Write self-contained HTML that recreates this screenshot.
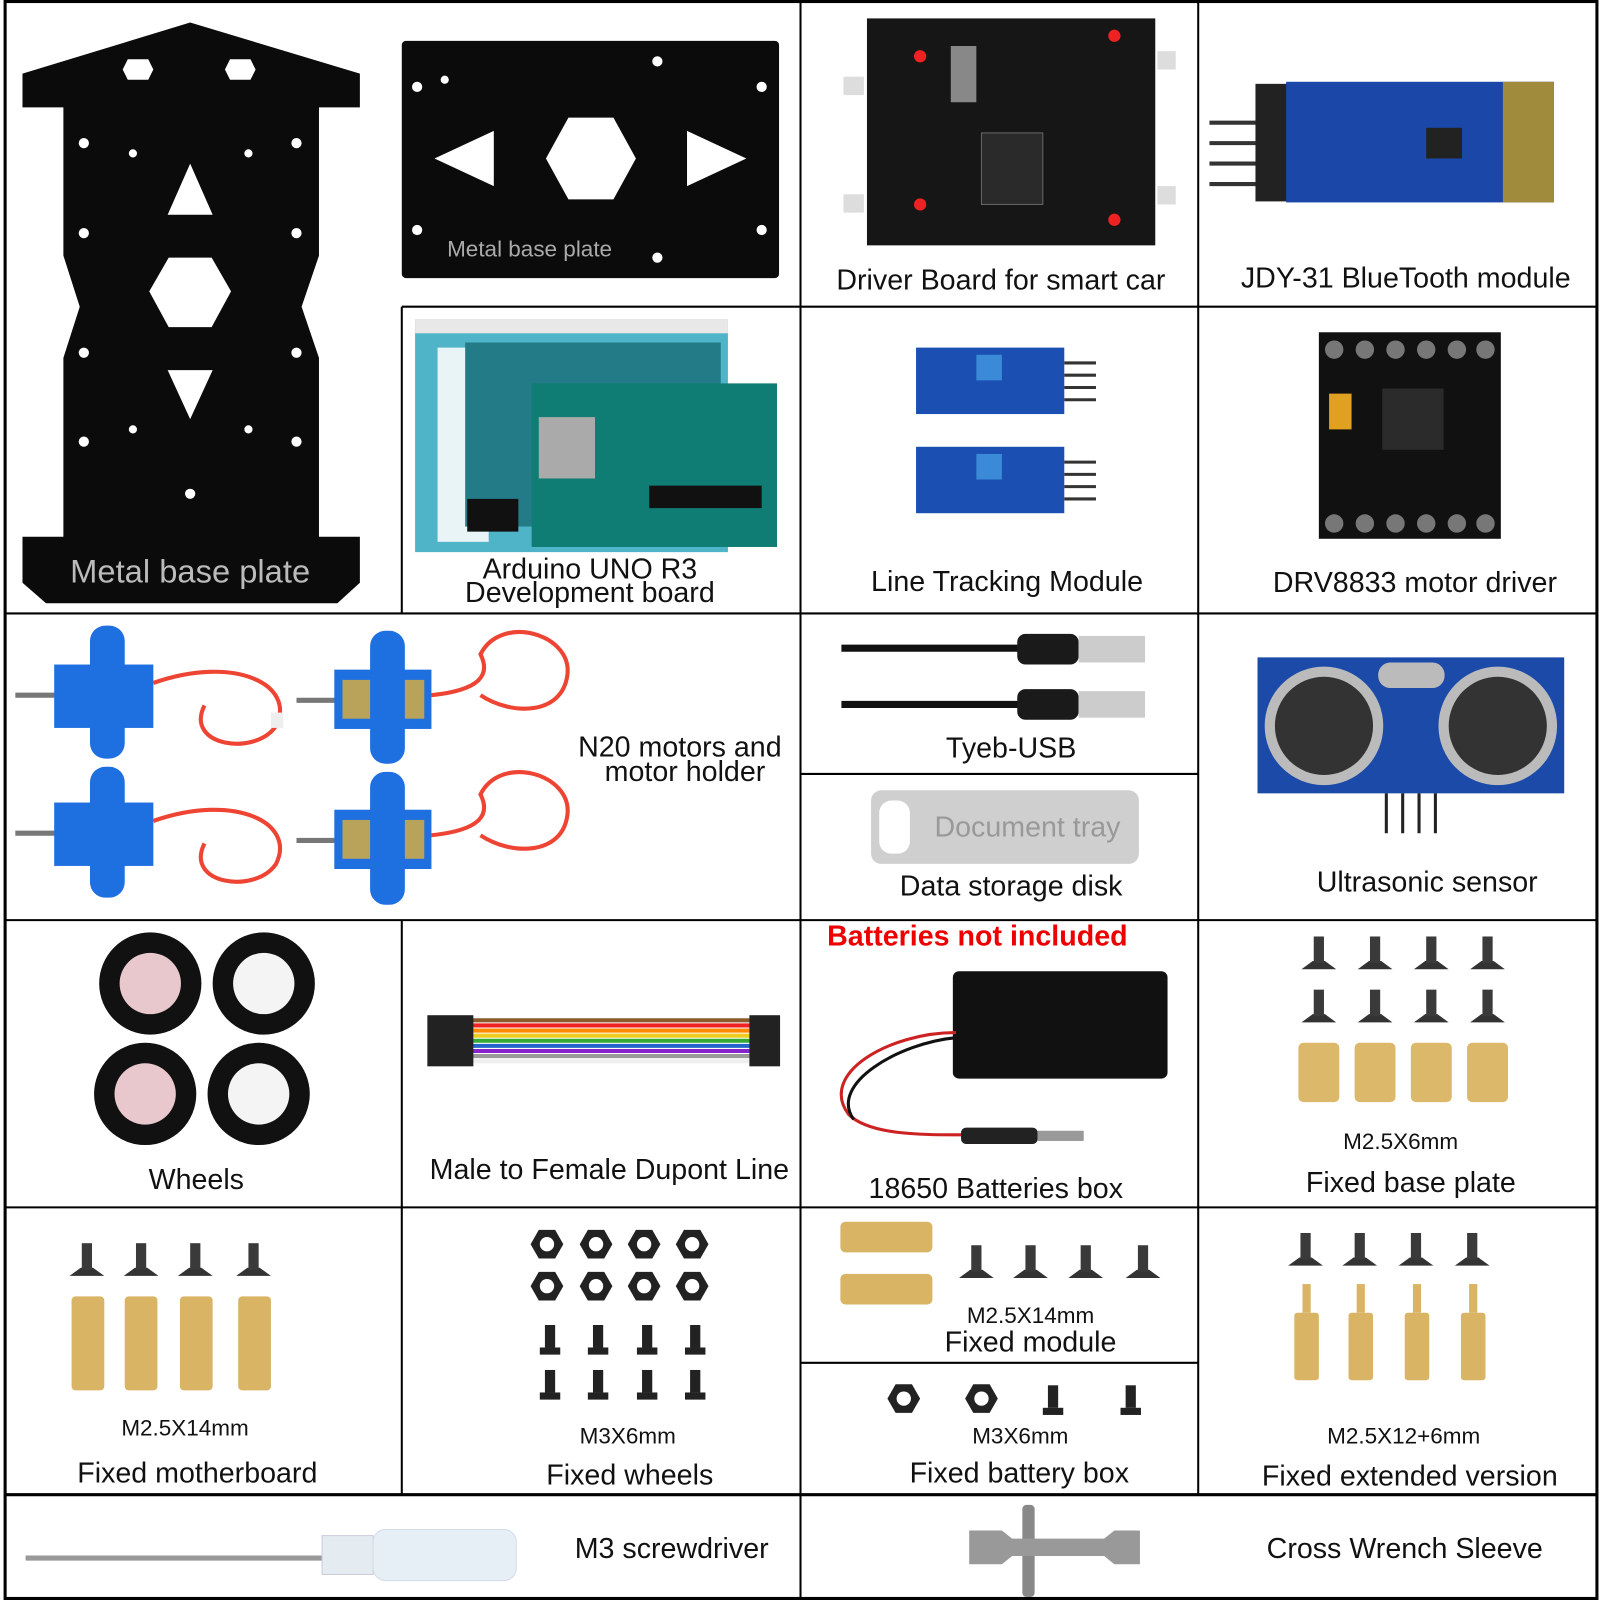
<!DOCTYPE html>
<html><head><meta charset="utf-8"><style>
html,body{margin:0;padding:0;background:#fff;width:1600px;height:1600px;overflow:hidden}
svg{display:block}
text{font-family:"Liberation Sans",sans-serif;fill:#111}
</style></head><body>
<svg width="1600" height="1600" viewBox="0 0 1565 1565" xmlns="http://www.w3.org/2000/svg">
<rect width="1565" height="1565" fill="#fff"/>
<!-- big metal plate -->
<polygon points="186,22 352,72 352,105 312,105 312,250 295,300 312,350 312,525 352,525 352,570 330,590 45,590 22,570 22,525 62,525 62,350 78,300 62,250 62,105 22,105 22,72" fill="#0b0b0b"/>
<polygon points="186,160 208,210 164,210" fill="#fff"/>
<polygon points="186,410 208,362 164,362" fill="#fff"/>
<polygon points="165,252 207,252 226,285 207,320 165,320 146,285" fill="#fff"/>
<polygon points="125,58 145,58 150,68 145,78 125,78 120,68" fill="#fff"/>
<polygon points="225,58 245,58 250,68 245,78 225,78 220,68" fill="#fff"/>
<g fill="#fff"><circle cx="82" cy="140" r="5"/><circle cx="290" cy="140" r="5"/><circle cx="82" cy="228" r="5"/><circle cx="290" cy="228" r="5"/><circle cx="82" cy="345" r="5"/><circle cx="290" cy="345" r="5"/><circle cx="82" cy="432" r="5"/><circle cx="290" cy="432" r="5"/><circle cx="186" cy="483" r="5"/><circle cx="130" cy="150" r="4"/><circle cx="243" cy="150" r="4"/><circle cx="130" cy="420" r="4"/><circle cx="243" cy="420" r="4"/></g>
<text x="186" y="570" text-anchor="middle" font-size="32" style="fill:#bbb">Metal base plate</text>
<!-- plate 2 -->
<rect x="393" y="40" width="369" height="232" rx="4" fill="#0b0b0b"/>
<polygon points="425,155 483,128 483,182" fill="#fff"/>
<polygon points="730,155 672,128 672,182" fill="#fff"/>
<polygon points="556,115 600,115 622,155 600,195 556,195 534,155" fill="#fff"/>
<g fill="#fff"><circle cx="408" cy="85" r="5"/><circle cx="745" cy="85" r="5"/><circle cx="408" cy="225" r="5"/><circle cx="745" cy="225" r="5"/><circle cx="643" cy="60" r="5"/><circle cx="643" cy="252" r="5"/><circle cx="435" cy="78" r="4"/></g>
<text x="518" y="251" text-anchor="middle" font-size="22" style="fill:#aaa">Metal base plate</text>
<!-- driver board -->
<rect x="848" y="18" width="282" height="222" fill="#161616"/>
<rect x="930" y="45" width="25" height="55" fill="#888"/>
<rect x="960" y="130" width="60" height="70" fill="#2a2a2a" stroke="#666"/>
<g fill="#e22"><circle cx="900" cy="55" r="6"/><circle cx="1090" cy="35" r="6"/><circle cx="900" cy="200" r="6"/><circle cx="1090" cy="215" r="6"/></g>
<rect x="825" y="75" width="20" height="18" fill="#ddd"/><rect x="825" y="190" width="20" height="18" fill="#ddd"/>
<rect x="1132" y="50" width="18" height="18" fill="#ddd"/><rect x="1132" y="182" width="18" height="18" fill="#ddd"/>
<text x="979" y="283" text-anchor="middle" font-size="28">Driver Board for smart car</text>
<!-- JDY-31 -->
<g stroke="#333" stroke-width="4"><line x1="1183" y1="120" x2="1240" y2="120"/><line x1="1183" y1="140" x2="1240" y2="140"/><line x1="1183" y1="160" x2="1240" y2="160"/><line x1="1183" y1="180" x2="1240" y2="180"/></g>
<rect x="1228" y="82" width="32" height="115" fill="#222"/>
<rect x="1258" y="80" width="262" height="118" fill="#1a47a8"/>
<rect x="1470" y="80" width="50" height="118" fill="#a08a3c"/>
<rect x="1395" y="125" width="35" height="30" fill="#222"/>
<text x="1375" y="281" text-anchor="middle" font-size="28">JDY-31 BlueTooth module</text>
<!-- Arduino -->
<polygon points="406,312 712,312 712,540 406,540" fill="#4fb4c8"/>
<rect x="406" y="312" width="306" height="14" fill="#e8e8e8"/>
<rect x="428" y="340" width="50" height="190" fill="#e8f4f6"/>
<rect x="455" y="335" width="250" height="180" fill="#227b86"/>
<rect x="520" y="375" width="240" height="160" fill="#0f7d74"/>
<rect x="527" y="408" width="55" height="60" fill="#aaa"/>
<rect x="457" y="488" width="50" height="32" fill="#111"/>
<rect x="635" y="475" width="110" height="22" fill="#111"/>
<text x="577" y="566" text-anchor="middle" font-size="28">Arduino UNO R3</text>
<text x="577" y="589" text-anchor="middle" font-size="28">Development board</text>
<!-- line tracking -->
<rect x="896" y="340" width="145" height="65" fill="#1c4fb2"/>
<rect x="896" y="437" width="145" height="65" fill="#1c4fb2"/>
<rect x="955" y="347" width="25" height="25" fill="#3a8ad8"/><rect x="955" y="444" width="25" height="25" fill="#3a8ad8"/>
<g stroke="#333" stroke-width="3"><line x1="1041" y1="355" x2="1072" y2="355"/><line x1="1041" y1="367" x2="1072" y2="367"/><line x1="1041" y1="379" x2="1072" y2="379"/><line x1="1041" y1="391" x2="1072" y2="391"/><line x1="1041" y1="452" x2="1072" y2="452"/><line x1="1041" y1="464" x2="1072" y2="464"/><line x1="1041" y1="476" x2="1072" y2="476"/><line x1="1041" y1="488" x2="1072" y2="488"/></g>
<text x="985" y="578" text-anchor="middle" font-size="28">Line Tracking Module</text>
<!-- DRV8833 -->
<rect x="1290" y="325" width="178" height="202" fill="#111"/>
<g fill="#777"><circle cx="1305" cy="342" r="9"/><circle cx="1335" cy="342" r="9"/><circle cx="1365" cy="342" r="9"/><circle cx="1395" cy="342" r="9"/><circle cx="1425" cy="342" r="9"/><circle cx="1453" cy="342" r="9"/><circle cx="1305" cy="512" r="9"/><circle cx="1335" cy="512" r="9"/><circle cx="1365" cy="512" r="9"/><circle cx="1395" cy="512" r="9"/><circle cx="1425" cy="512" r="9"/><circle cx="1453" cy="512" r="9"/></g>
<rect x="1352" y="380" width="60" height="60" fill="#2b2b2b"/>
<rect x="1300" y="385" width="22" height="35" fill="#e0a020"/>
<text x="1384" y="579" text-anchor="middle" font-size="28">DRV8833 motor driver</text>
<!-- N20 motors -->
<g id="m1">
<line x1="15" y1="680" x2="55" y2="680" stroke="#777" stroke-width="5"/>
<rect x="53" y="650" width="97" height="62" fill="#1e6fe0"/>
<rect x="88" y="612" width="34" height="130" rx="15" fill="#1e6fe0"/>
<path d="M150 668 C230 640 290 670 270 710 C250 740 180 730 200 690" fill="none" stroke="#e43" stroke-width="4"/>
<rect x="265" y="697" width="12" height="15" fill="#eee"/>
</g>
<g><line x1="15" y1="815" x2="55" y2="815" stroke="#777" stroke-width="5"/>
<rect x="53" y="785" width="97" height="62" fill="#1e6fe0"/>
<rect x="88" y="750" width="34" height="128" rx="15" fill="#1e6fe0"/>
<path d="M150 803 C230 775 290 805 270 845 C250 875 180 865 200 825" fill="none" stroke="#e43" stroke-width="4"/></g>
<g><line x1="290" y1="685" x2="330" y2="685" stroke="#777" stroke-width="5"/>
<rect x="327" y="655" width="95" height="58" fill="#1e6fe0"/><rect x="335" y="665" width="80" height="38" fill="#b9a35a"/>
<rect x="362" y="617" width="34" height="130" rx="15" fill="#1e6fe0"/>
<path d="M422 680 C470 675 480 660 470 640 C490 600 560 620 555 660 C550 700 500 700 470 680" fill="none" stroke="#e43" stroke-width="4"/></g>
<g><line x1="290" y1="822" x2="330" y2="822" stroke="#777" stroke-width="5"/>
<rect x="327" y="792" width="95" height="58" fill="#1e6fe0"/><rect x="335" y="802" width="80" height="38" fill="#b9a35a"/>
<rect x="362" y="755" width="34" height="130" rx="15" fill="#1e6fe0"/>
<path d="M422 817 C470 812 480 797 470 777 C490 737 560 757 555 797 C550 837 500 837 470 817" fill="none" stroke="#e43" stroke-width="4"/></g>
<text x="665" y="740" text-anchor="middle" font-size="28">N20 motors and</text>
<text x="670" y="764" text-anchor="middle" font-size="28">motor holder</text>
<!-- USB -->
<line x1="823" y1="634" x2="1000" y2="634" stroke="#111" stroke-width="7"/>
<rect x="995" y="620" width="60" height="30" rx="8" fill="#1a1a1a"/><rect x="1055" y="622" width="65" height="26" fill="#ccc"/>
<line x1="823" y1="689" x2="1000" y2="689" stroke="#111" stroke-width="7"/>
<rect x="995" y="674" width="60" height="30" rx="8" fill="#1a1a1a"/><rect x="1055" y="676" width="65" height="26" fill="#ccc"/>
<text x="989" y="741" text-anchor="middle" font-size="28">Tyeb-USB</text>
<rect x="852" y="773" width="262" height="72" rx="10" fill="#cfcfcf"/>
<rect x="860" y="783" width="30" height="52" rx="12" fill="#fff"/>
<text x="1005" y="818" text-anchor="middle" font-size="28" style="fill:#999">Document tray</text>
<text x="989" y="876" text-anchor="middle" font-size="28">Data storage disk</text>
<!-- ultrasonic -->
<rect x="1230" y="643" width="300" height="133" fill="#1b4aa8"/>
<circle cx="1295" cy="710" r="58" fill="#bbb"/><circle cx="1295" cy="710" r="48" fill="#333"/>
<circle cx="1465" cy="710" r="58" fill="#bbb"/><circle cx="1465" cy="710" r="48" fill="#333"/>
<rect x="1348" y="648" width="65" height="25" rx="12" fill="#bbb"/>
<g stroke="#222" stroke-width="3"><line x1="1356" y1="776" x2="1356" y2="815"/><line x1="1372" y1="776" x2="1372" y2="815"/><line x1="1388" y1="776" x2="1388" y2="815"/><line x1="1404" y1="776" x2="1404" y2="815"/></g>
<text x="1396" y="872" text-anchor="middle" font-size="28">Ultrasonic sensor</text>
<!-- wheels -->
<g><circle cx="147" cy="962" r="50" fill="#111"/><circle cx="147" cy="962" r="30" fill="#e8c8cc"/>
<circle cx="258" cy="962" r="50" fill="#111"/><circle cx="258" cy="962" r="30" fill="#f4f4f4"/>
<circle cx="142" cy="1070" r="50" fill="#111"/><circle cx="142" cy="1070" r="30" fill="#e8c8cc"/>
<circle cx="253" cy="1070" r="50" fill="#111"/><circle cx="253" cy="1070" r="30" fill="#f4f4f4"/></g>
<text x="192" y="1163" text-anchor="middle" font-size="28">Wheels</text>
<!-- dupont -->
<g stroke-width="4"><line x1="460" y1="998" x2="735" y2="998" stroke="#8a5a2a"/><line x1="460" y1="1003" x2="735" y2="1003" stroke="#e22"/><line x1="460" y1="1008" x2="735" y2="1008" stroke="#f80"/><line x1="460" y1="1013" x2="735" y2="1013" stroke="#ec2"/><line x1="460" y1="1018" x2="735" y2="1018" stroke="#3a3"/><line x1="460" y1="1023" x2="735" y2="1023" stroke="#26c"/><line x1="460" y1="1028" x2="735" y2="1028" stroke="#82c"/><line x1="460" y1="1033" x2="735" y2="1033" stroke="#999"/><line x1="460" y1="1038" x2="735" y2="1038" stroke="#eee"/></g>
<rect x="418" y="993" width="45" height="50" fill="#222"/><rect x="733" y="993" width="30" height="50" fill="#222"/>
<text x="596" y="1153" text-anchor="middle" font-size="28">Male to Female Dupont Line</text>
<!-- battery -->
<text x="956" y="925" text-anchor="middle" font-size="28" font-weight="bold" style="fill:#e00">Batteries not included</text>
<rect x="932" y="950" width="210" height="105" rx="6" fill="#111"/>
<path d="M935 1010 C870 1010 800 1050 830 1090 C850 1110 900 1110 940 1110" fill="none" stroke="#c22" stroke-width="3"/>
<path d="M935 1015 C880 1020 810 1060 835 1095" fill="none" stroke="#111" stroke-width="3"/>
<rect x="940" y="1103" width="75" height="16" rx="5" fill="#222"/><rect x="1015" y="1106" width="45" height="10" fill="#999"/>
<text x="974" y="1172" text-anchor="middle" font-size="28">18650 Batteries box</text>
<!-- screws defs -->
<defs>
<g id="scr"><polygon points="-17,0 17,0 6,-8 -6,-8" fill="#333"/><rect x="-5" y="-32" width="10" height="26" fill="#3a3a3a"/></g>
<g id="nut"><polygon points="-16,0 -8,-14 8,-14 16,0 8,14 -8,14" fill="#222"/><circle r="7" fill="#fff"/></g>
<g id="bs"><rect x="-5" y="-22" width="10" height="22" fill="#222"/><rect x="-10" y="0" width="20" height="7" fill="#222"/></g>
</defs>
<g><use href="#scr" x="1290" y="948"/><use href="#scr" x="1345" y="948"/><use href="#scr" x="1400" y="948"/><use href="#scr" x="1455" y="948"/>
<use href="#scr" x="1290" y="1000"/><use href="#scr" x="1345" y="1000"/><use href="#scr" x="1400" y="1000"/><use href="#scr" x="1455" y="1000"/></g>
<g fill="#dcb86a"><rect x="1270" y="1020" width="40" height="58" rx="5"/><rect x="1325" y="1020" width="40" height="58" rx="5"/><rect x="1380" y="1020" width="40" height="58" rx="5"/><rect x="1435" y="1020" width="40" height="58" rx="5"/></g>
<text x="1370" y="1124" text-anchor="middle" font-size="22">M2.5X6mm</text>
<text x="1380" y="1166" text-anchor="middle" font-size="28">Fixed base plate</text>
<!-- row5 -->
<g><use href="#scr" x="85" y="1248"/><use href="#scr" x="138" y="1248"/><use href="#scr" x="191" y="1248"/><use href="#scr" x="248" y="1248"/></g>
<g fill="#d8b464"><rect x="70" y="1268" width="32" height="92" rx="4"/><rect x="122" y="1268" width="32" height="92" rx="4"/><rect x="176" y="1268" width="32" height="92" rx="4"/><rect x="233" y="1268" width="32" height="92" rx="4"/></g>
<text x="181" y="1404" text-anchor="middle" font-size="22">M2.5X14mm</text>
<text x="193" y="1450" text-anchor="middle" font-size="28">Fixed motherboard</text>
<g><use href="#nut" x="535" y="1217"/><use href="#nut" x="583" y="1217"/><use href="#nut" x="630" y="1217"/><use href="#nut" x="677" y="1217"/>
<use href="#nut" x="535" y="1258"/><use href="#nut" x="583" y="1258"/><use href="#nut" x="630" y="1258"/><use href="#nut" x="677" y="1258"/>
<use href="#bs" x="538" y="1318"/><use href="#bs" x="585" y="1318"/><use href="#bs" x="633" y="1318"/><use href="#bs" x="680" y="1318"/>
<use href="#bs" x="538" y="1362"/><use href="#bs" x="585" y="1362"/><use href="#bs" x="633" y="1362"/><use href="#bs" x="680" y="1362"/></g>
<text x="614" y="1412" text-anchor="middle" font-size="22">M3X6mm</text>
<text x="616" y="1452" text-anchor="middle" font-size="28">Fixed wheels</text>
<g fill="#d8b464"><rect x="822" y="1195" width="90" height="30" rx="5"/><rect x="822" y="1246" width="90" height="30" rx="5"/></g>
<g><use href="#scr" x="955" y="1250"/><use href="#scr" x="1008" y="1250"/><use href="#scr" x="1062" y="1250"/><use href="#scr" x="1118" y="1250"/></g>
<text x="1008" y="1294" text-anchor="middle" font-size="22">M2.5X14mm</text>
<text x="1008" y="1322" text-anchor="middle" font-size="28">Fixed module</text>
<g><use href="#nut" x="884" y="1368"/><use href="#nut" x="960" y="1368"/><use href="#bs" x="1030" y="1377"/><use href="#bs" x="1106" y="1377"/></g>
<text x="998" y="1412" text-anchor="middle" font-size="22">M3X6mm</text>
<text x="997" y="1450" text-anchor="middle" font-size="28">Fixed battery box</text>
<g><use href="#scr" x="1277" y="1238"/><use href="#scr" x="1330" y="1238"/><use href="#scr" x="1385" y="1238"/><use href="#scr" x="1440" y="1238"/></g>
<g fill="#d8b464"><rect x="1274" y="1256" width="8" height="28"/><rect x="1327" y="1256" width="8" height="28"/><rect x="1382" y="1256" width="8" height="28"/><rect x="1437" y="1256" width="8" height="28"/>
<rect x="1266" y="1284" width="24" height="66" rx="3"/><rect x="1319" y="1284" width="24" height="66" rx="3"/><rect x="1374" y="1284" width="24" height="66" rx="3"/><rect x="1429" y="1284" width="24" height="66" rx="3"/></g>
<text x="1373" y="1412" text-anchor="middle" font-size="22">M2.5X12+6mm</text>
<text x="1379" y="1453" text-anchor="middle" font-size="28">Fixed extended version</text>
<!-- row6 -->
<line x1="25" y1="1524" x2="320" y2="1524" stroke="#999" stroke-width="5"/>
<rect x="315" y="1502" width="50" height="38" fill="#e4ecf2" stroke="#ccd"/>
<rect x="365" y="1496" width="140" height="50" rx="12" fill="#e6eef6" stroke="#d4dde8"/>
<text x="657" y="1524" text-anchor="middle" font-size="28">M3 screwdriver</text>
<rect x="1000" y="1472" width="12" height="90" rx="4" fill="#888"/>
<polygon points="948,1497 980,1497 990,1505 1080,1505 1090,1497 1115,1497 1115,1530 1090,1530 1080,1522 990,1522 980,1530 948,1530" fill="#999"/>
<text x="1374" y="1524" text-anchor="middle" font-size="28">Cross Wrench Sleeve</text>
<!-- grid -->
<g stroke="#000" stroke-width="2" fill="none">
<line x1="393" y1="300" x2="393" y2="600"/><line x1="393" y1="900" x2="393" y2="1462"/>
<line x1="783" y1="0" x2="783" y2="1565"/><line x1="1172" y1="0" x2="1172" y2="1462"/>
<line x1="393" y1="300" x2="1562" y2="300"/>
<line x1="5" y1="600" x2="1562" y2="600"/><line x1="5" y1="900" x2="1562" y2="900"/>
<line x1="5" y1="1181" x2="1562" y2="1181"/><line x1="783" y1="757" x2="1172" y2="757"/><line x1="783" y1="1333" x2="1172" y2="1333"/>
</g>
<line x1="5" y1="1462" x2="1562" y2="1462" stroke="#000" stroke-width="3"/>
<rect x="5" y="1.5" width="1557" height="1562" stroke="#000" stroke-width="3" fill="none"/>
</svg>
</body></html>
